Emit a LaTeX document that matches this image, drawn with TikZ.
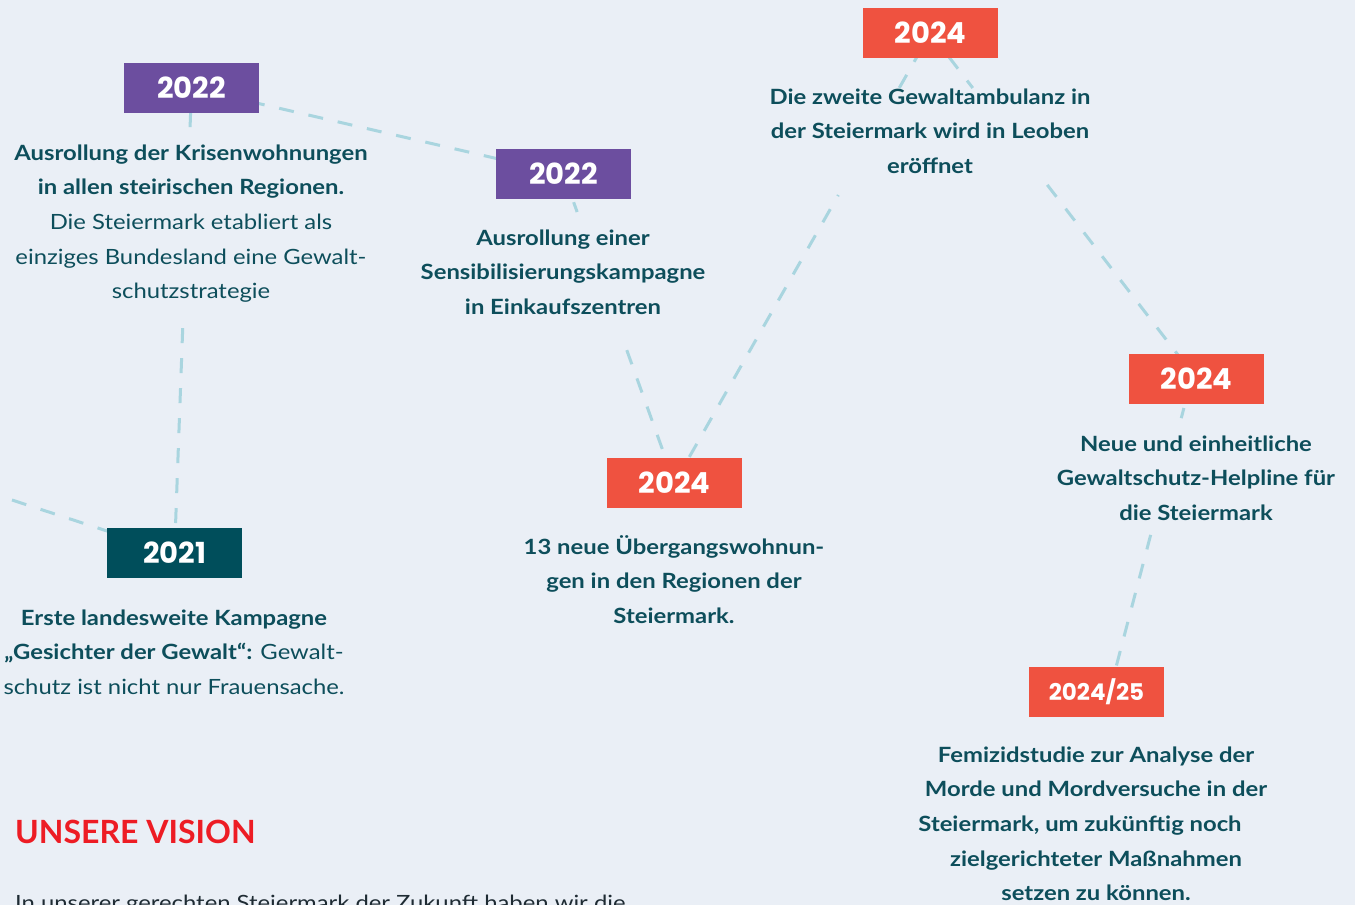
\documentclass[tikz,border=0pt]{standalone}
\usepackage{fontspec}
\setmainfont{Lato}[FakeStretch=1.135]
\newfontfamily\visionfont{Lato}
\newfontfamily\yearfont{Poppins}
\usetikzlibrary{calc}
\pgfdeclarelayer{background}
\pgfsetlayers{background,main}
\definecolor{bg}{HTML}{EAEFF6}
\definecolor{purplebox}{HTML}{6C4E9F}
\definecolor{redbox}{HTML}{EF5240}
\definecolor{tealbox}{HTML}{004E5B}
\definecolor{textc}{HTML}{0D4E5B}
\definecolor{visionred}{HTML}{ED1C24}
\definecolor{linec}{HTML}{A9D5DF}
\definecolor{bodyc}{HTML}{1E2B33}
\begin{document}
\begin{tikzpicture}[x=1pt,y=-1pt,
  yearbox/.style={minimum width=135pt, minimum height=50pt, inner sep=0pt, text=white,
    font=\yearfont\bfseries\fontsize{29}{30}\selectfont},
  smallyear/.style={yearbox, font=\yearfont\bfseries\fontsize{23}{24}\selectfont},
  tl/.style={dash pattern=on 15pt off 15pt, line width=3pt, draw=linec},
  desc/.style={align=center, text=textc, inner sep=0pt, anchor=north,
    font=\fontsize{21}{34.6}\selectfont}]
\begin{pgfonlayer}{background}
\fill[bg] (0,0) rectangle (1355,905);
\end{pgfonlayer}
\useasboundingbox (0,0) rectangle (1355,905);

% year boxes
\node[yearbox, fill=purplebox] (y2022a) at (191.5,88) {\raisebox{-1.2pt}{2022}};
\node[yearbox, fill=purplebox] (y2022b) at (563.5,174) {\raisebox{-1.2pt}{2022}};
\node[yearbox, fill=redbox] (y2024t) at (930.5,33) {\raisebox{-1.2pt}{2024}};
\node[yearbox, fill=redbox] (y2024m) at (674.5,483) {\raisebox{-1.2pt}{2024}};
\node[yearbox, fill=redbox] (y2024r) at (1196.5,379) {\raisebox{-1.2pt}{2024}};
\node[yearbox, fill=tealbox] (y2021) at (174.5,553) {\raisebox{-1.2pt}{2021}};
\node[smallyear, fill=redbox] (y2025) at (1096.5,692) {2024/25};
\coordinate (prev) at (12,500);
\coordinate (r1) at ($(y2024r.center)+(-5,0)$);
\coordinate (r2) at ($(y2025.center)+(13,0)$);

% connectors (behind the boxes)
\begin{pgfonlayer}{background}
\draw[tl] (prev) -- (y2021.center);
\draw[tl] (y2021.center) -- ($(y2021)!0.484!(y2022a)$);
\draw[tl] ($(y2021)!0.916!(y2022a)$) -- (y2022a.center);
\draw[tl] (y2022a.center) -- (y2022b.center);
\draw[tl] (y2022b.center) -- ($(y2022b)!0.123!(y2024m)$);
\draw[tl] ($(y2022b)!0.570!(y2024m)$) -- (y2024m.center);
\draw[tl] (y2024m.center) -- ($(y2024m)!0.64!(y2024t)$);
\draw[tl] ($(y2024m)!0.878!(y2024t)$) -- (y2024t.center);
\draw[tl] (y2024t.center) -- ($(y2024t)!0.159!(y2024r)$);
\draw[tl] ($(y2024t)!0.439!(y2024r)$) -- (y2024r.center);
\draw[tl] (r1) -- ($(r1)!0.125!(r2)$);
\draw[tl] ($(r1)!0.498!(r2)$) -- (r2);
\end{pgfonlayer}

% descriptions
\node[desc] (t2022a) at (191,140) {\rule{0pt}{20pt}{\bfseries Ausrollung der Krisenwohnungen}\\
  {\bfseries in allen steirischen Regionen.}\\
  Die Steiermark etabliert als\\
  einziges Bundesland eine Gewalt-\\
  schutzstrategie};
\node[desc] (t2022b) at (563,225) {\rule{0pt}{20pt}{\bfseries Ausrollung einer}\\
  {\bfseries Sensibilisierungskampagne}\\
  {\bfseries in Einkaufszentren}};
\node[desc] (t2024t) at (930,84) {\rule{0pt}{20pt}{\bfseries Die zweite Gewaltambulanz in}\\
  {\bfseries der Steiermark wird in Leoben}\\
  {\bfseries eröffnet}};
\node[desc] (t2024m) at (674,534) {\rule{0pt}{20pt}{\bfseries 13 neue Übergangswohnun-}\\
  {\bfseries gen in den Regionen der}\\
  {\bfseries Steiermark.}};
\node[desc] (t2024r) at (1196,431) {\rule{0pt}{20pt}{\bfseries Neue und einheitliche}\\
  {\bfseries Gewaltschutz-Helpline für}\\
  {\bfseries die Steiermark}};
\node[desc] (t2021) at (174,605) {\rule{0pt}{20pt}{\bfseries Erste landesweite Kampagne}\\
  {\bfseries „Gesichter der Gewalt“:} Gewalt-\\
  schutz ist nicht nur Frauensache.};
\node[desc] (t2025) at (1096,742) {\rule{0pt}{20pt}{\bfseries Femizidstudie zur Analyse der}\\
  {\bfseries Morde und Mordversuche in der}\\
  {\bfseries Steiermark, um zukünftig noch}\rule{32pt}{0pt}\\
  {\bfseries zielgerichteter Maßnahmen}\\
  {\bfseries setzen zu können.}};

% vision
\node[anchor=base west, inner sep=0pt, text=visionred,
  font=\visionfont\bfseries\fontsize{32}{32}\selectfont] (vision) at (15,843) {UNSERE VISION};
\node[anchor=base west, inner sep=0pt, text=bodyc,
  font=\fontsize{21}{25}\selectfont] (body) at (15,910) {In unserer gerechten Steiermark der Zukunft haben wir die};
\end{tikzpicture}
\end{document}
